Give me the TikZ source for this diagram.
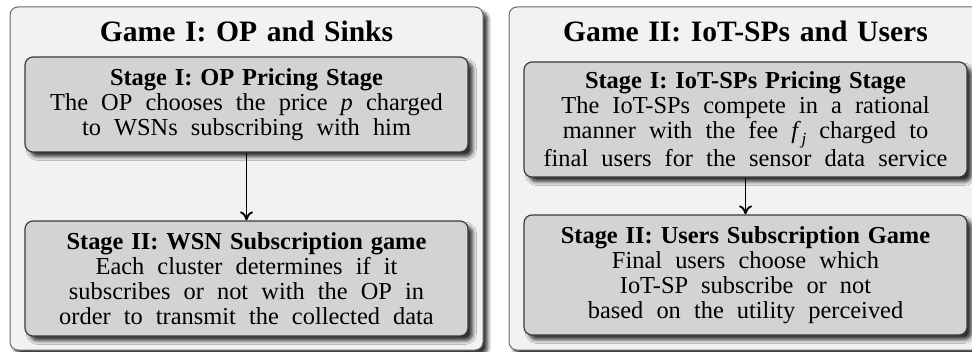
\documentclass[tikz,border=0pt]{standalone}
\usepackage{fontspec}
\setmainfont{Liberation Serif}[WordSpace=2.15, BoldFeatures={WordSpace=1.3}]
\usetikzlibrary{shadows,shadows.blur,arrows.meta}
\definecolor{outerfill}{HTML}{F2F2F2}
\definecolor{outerdraw}{HTML}{6A6A6A}
\definecolor{innerfill}{HTML}{D3D3D3}
\definecolor{innerdraw}{HTML}{3A3A3A}
\newcommand{\mvar}[1]{\textit{#1}}
\tikzset{
  gamebox/.style={draw=outerdraw, fill=outerfill, line width=0.5pt, rounded corners=4pt,
    minimum width=236.5pt, minimum height=171.5pt, inner sep=0pt,
    blur shadow={shadow xshift=2.4pt, shadow yshift=-2.4pt, shadow blur steps=6, shadow opacity=80}},
  stagebox/.style={draw=innerdraw, fill=innerfill, line width=0.6pt, rounded corners=4pt,
    minimum width=221.5pt, inner sep=0pt, align=center,
    font=\fontsize{12.2}{12.5}\selectfont,
    blur shadow={shadow xshift=2.4pt, shadow yshift=-2.4pt, shadow blur steps=6, shadow opacity=80}},
  gametitle/.style={inner sep=0pt, font=\fontsize{14.8}{18}\selectfont\bfseries},
  flow/.style={draw=black, line width=0.9pt, -{To[length=4.5pt,width=6.5pt]}}
}
\begin{document}
\begin{tikzpicture}[x=0.5pt,y=-0.5pt]
\useasboundingbox (0,0) rectangle (972,352);
\clip (0,0) rectangle (972,352);
% left game
\node[gamebox] (g1) at (246.5,178.5) {};
\node[gametitle] (t1) at (246.5,31) {Game I: OP and Sinks};
\node[stagebox, minimum height=47.5pt] (s11) at (246.5,104.5)
  {\textbf{Stage I: OP Pricing Stage}\\The OP chooses the price \mvar{p} charged\\to WSNs subscribing with him};
\node[stagebox, minimum height=57.5pt] (s12) at (246.5,278.5)
  {\textbf{Stage II: WSN Subscription game}\\Each cluster determines if it\\subscribes or not with the OP in\\order to transmit the collected data};
\draw[flow] (s11) -- (s12);
% right game
\node[gamebox] (g2) at (745.5,178.5) {};
\node[gametitle] (t2) at (745.5,31) {Game II: IoT-SPs and Users};
\node[stagebox, minimum height=57.5pt] (s21) at (745.5,119.5)
  {\textbf{Stage I: IoT-SPs Pricing Stage}\\The IoT-SPs compete in a rational\\manner with the fee \mvar{f}\kern0.3pt\raisebox{-0.22em}{\fontsize{8.5}{9}\selectfont\mvar{j}} charged to\\final users for the sensor data service};
\node[stagebox, minimum height=60pt] (s22) at (745.5,275)
  {\textbf{Stage II: Users Subscription Game}\\Final users choose which\\IoT-SP subscribe or not\\based on the utility perceived};
\draw[flow] (s21) -- (s22);
\end{tikzpicture}
\end{document}
